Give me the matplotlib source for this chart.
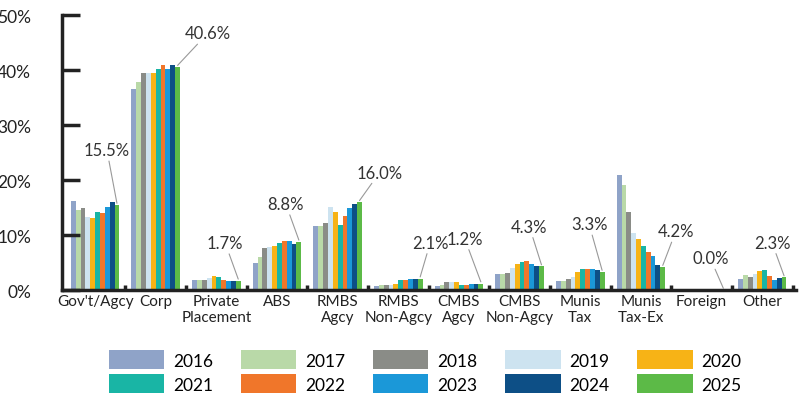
import numpy as np
import matplotlib.pyplot as plt

plt.rcParams['font.family'] = ['Lato', 'DejaVu Sans']

categories = ["Gov't/Agcy", "Corp", "Private\nPlacement", "ABS", "RMBS\nAgcy", "RMBS\nNon-Agcy",
              "CMBS\nAgcy", "CMBS\nNon-Agcy", "Munis\nTax", "Munis\nTax-Ex", "Foreign", "Other"]
years = ["2016", "2017", "2018", "2019", "2020", "2021", "2022", "2023", "2024", "2025"]
colors = ["#8fa3c8", "#b9d9a8", "#8a8c87", "#cde3f0", "#f7b316",
          "#19b5a5", "#f0762a", "#1b98d8", "#0d4f86", "#5cba47"]

# rows = categories, cols = years
values = np.array([
    [16.3, 14.6, 15.0, 13.3, 13.2, 14.3, 14.1, 15.2, 16.1, 15.5],
    [36.6, 37.9, 39.6, 39.5, 39.5, 40.3, 41.0, 40.3, 41.0, 40.6],
    [1.8, 1.9, 1.9, 2.2, 2.5, 2.3, 1.8, 1.6, 1.6, 1.7],
    [4.9, 6.0, 7.7, 7.8, 8.1, 8.5, 8.9, 9.0, 8.3, 8.8],
    [11.7, 11.7, 12.2, 15.1, 14.3, 11.9, 13.4, 15.0, 15.6, 16.0],
    [0.7, 0.9, 1.0, 1.0, 1.2, 1.8, 1.8, 2.0, 2.0, 2.1],
    [0.7, 1.0, 1.4, 1.4, 1.4, 1.0, 1.0, 1.2, 1.2, 1.2],
    [3.0, 3.0, 3.2, 4.1, 4.7, 5.1, 5.3, 4.7, 4.3, 4.3],
    [1.6, 1.6, 2.0, 2.4, 3.3, 3.8, 3.8, 3.9, 3.6, 3.3],
    [21.0, 19.2, 14.3, 10.4, 9.3, 8.0, 7.0, 6.2, 4.6, 4.2],
    [0.1, 0.1, 0.1, 0.1, 0.1, 0.1, 0.1, 0.1, 0.1, 0.0],
    [2.1, 2.7, 2.3, 2.9, 3.5, 3.7, 2.6, 1.8, 2.2, 2.3],
])
labels = ["15.5%", "40.6%", "1.7%", "8.8%", "16.0%", "2.1%", "1.2%", "4.3%", "3.3%", "4.2%", "0.0%", "2.3%"]
# label offsets in pixels from top of 2025 bar
offsets = [(-10, 45), (30, 24), (-13, 28), (-13, 28), (20, 20), (10, 26),
           (-16, 35), (-12, 30), (-13, 38), (13, 26), (-13, 22), (-12, 25)]

fig = plt.figure(figsize=(8.02, 4.10), dpi=100)
ax = fig.add_axes([0.077, 0.29, 0.915, 0.67])

x = np.arange(len(categories))
w = 0.08
handles = []
for j, (yr, c) in enumerate(zip(years, colors)):
    handles.append(ax.bar(x + (j - 4.5) * w, values[:, j], w, color=c, label=yr))

for i in range(len(categories)):
    bx = x[i] + 4.5 * w
    ax.annotate(labels[i], xy=(bx, values[i, -1] + 0.3), xytext=offsets[i],
                textcoords='offset pixels', ha='center', va='bottom', fontsize=12, color='#333333',
                arrowprops=dict(arrowstyle='-', color='#999999', lw=0.8, shrinkA=0, shrinkB=0))

ax.set_ylim(0, 50)
ax.set_xlim(-0.55, len(categories) - 0.45)
ax.set_yticks(range(0, 51, 10))
ax.set_yticklabels([f"{v}%" for v in range(0, 51, 10)], fontsize=12.5, color='#222222')
ax.tick_params(axis='y', direction='in', length=13, width=2.5, color='#222222', pad=22)
ax.set_xticks(x)
ax.set_xticklabels(categories, fontsize=11, color='#222222')
ax.tick_params(axis='x', length=0, pad=3)
for s in ['top', 'right']:
    ax.spines[s].set_visible(False)
for s in ['left', 'bottom']:
    ax.spines[s].set_linewidth(2.5)
    ax.spines[s].set_color('#222222')
# group separator marks
for sx in x + 0.5:
    ax.plot([sx, sx], [0, 0.9], color='#222222', lw=2.5, clip_on=False, solid_capstyle='butt')

# legend filled row by row
order = [0, 5, 1, 6, 2, 7, 3, 8, 4, 9]
fig.legend([handles[k] for k in order], [years[k] for k in order],
           loc='lower center', bbox_to_anchor=(0.53, 0.0), ncol=5, frameon=False,
           fontsize=12.5, handlelength=3.2, handleheight=1.3, columnspacing=1.6, handletextpad=0.5,
           labelspacing=0.3)

fig.savefig("out.png", dpi=100)
